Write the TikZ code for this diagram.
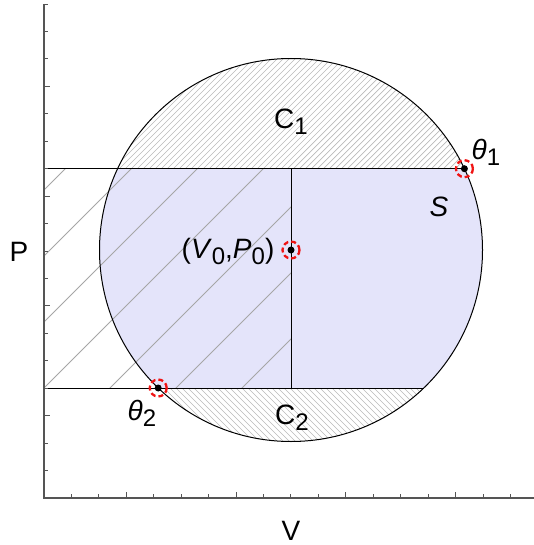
\documentclass[tikz,border=0pt]{standalone}
\usepackage{fontspec}
\setmainfont{Liberation Sans}
\usetikzlibrary{positioning}
\definecolor{lavfill}{RGB}{228,228,250}
\definecolor{hatchgray}{RGB}{185,185,185}
\definecolor{axisgray}{RGB}{85,85,85}
\definecolor{markred}{RGB}{240,20,20}
\newcommand{\lsub}[1]{\raisebox{-6pt}{\fontsize{24}{24}\selectfont #1}}

\begin{document}
\begin{tikzpicture}[x=1pt, y=-1pt, every node/.style={font=\fontsize{28}{32}\selectfont, inner sep=0pt},
  hatch/.style={draw=hatchgray, line width=0.7pt},
  wide/.style={draw=hatchgray!90!black, line width=0.8pt},
  edge/.style={draw=black, line width=1pt},
  marker/.style={draw=markred, line width=2.3pt, dash pattern=on 5pt off 3pt},
  axis/.style={draw=axisgray, line width=1.3pt}]
 \useasboundingbox (0,0) rectangle (534,545);
 \coordinate (c0) at (291,250);
 \coordinate (t1) at (464.4,168.7);
 \coordinate (t2) at (158.2,388);
 \coordinate (b2) at (423.8,388);
 \coordinate (a1) at (44,168.7);
 \coordinate (a2) at (44,388);
 \coordinate (m1) at (291,168.7);
 \coordinate (m2) at (291,388);
 \coordinate (o) at (44,498);
 \coordinate (ytop) at (44,4);
 \coordinate (xend) at (534,498);
 % region S
 \begin{scope}
  \clip (0,168.7) rectangle (534,388);
  \fill[lavfill] (c0) circle[radius=191.5];
 \end{scope}
 % C1 and C2
 \begin{scope}
  \clip (c0) circle[radius=191.5];
  \clip (0,0) rectangle (534,168.7);
  \foreach \c in {150,156,...,660} \draw[hatch] (\c-180,180) -- (\c-50,50);
 \end{scope}
 \begin{scope}
  \clip (c0) circle[radius=191.5];
  \clip (0,388) rectangle (534,450);
  \foreach \c in {-350,-344,...,100} \draw[hatch] (\c+380,380) -- (\c+450,450);
 \end{scope}
 \begin{scope}
  \clip (a1) rectangle (m2);
  \foreach \c in {234,300,...,630} \draw[wide] (\c-400,400) -- (\c-160,160);
 \end{scope}
 \draw[edge] (c0) circle[radius=191.5];
 \draw[edge] (a1) -- (t1);
 \draw[edge] (a2) -- (b2);
 \draw[edge] (m1) -- (m2);
 % axes
 \draw[axis] (ytop) -- (o) -- (xend);
 \foreach \k in {1,...,18} \draw[axis, line width=1pt] (44,498-27.44*\k) -- ++(4,0);
 \foreach \k in {3,7,11,15} \draw[axis, line width=1pt] (44,498-27.44*\k) -- ++(6,0);
 \foreach \k in {1,...,17} \draw[axis, line width=1pt] (44+27.44*\k,498) -- ++(0,-4);
 \foreach \k in {3,7,11,15} \draw[axis, line width=1pt] (44+27.44*\k,498) -- ++(0,-6);
 % points
 \foreach \p in {c0,t1,t2} {
  \fill (\p) circle[radius=3.5];
  \draw[marker] (\p) circle[radius=8.5];
 }
 \node (lc1) at (291,122) {C\lsub{1}};
 \node (lc2) at (292,418) {C\lsub{2}};
 \node (lth1) at (486,152) {\textit{θ}\lsub{1}};
 \node (lth2) at (142,413) {\textit{θ}\lsub{2}};
 \node (ls) at (439,207) {\textit{S}};
 \node (lp0) at (228,251) {(\textit{V}\lsub{0},\textit{P}\lsub{0})};
 \node (lp) at (19,252) {P};
 \node (lv) at (291,531) {V};
\end{tikzpicture}
\end{document}
